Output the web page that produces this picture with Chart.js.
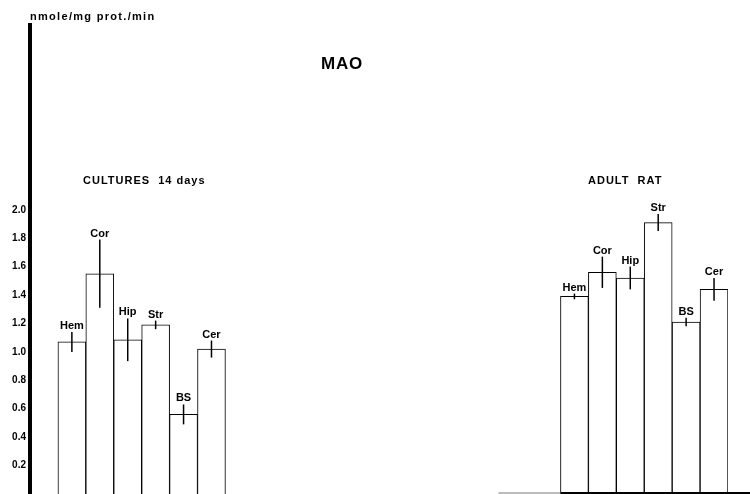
<!DOCTYPE html>
<html>
<head>
<meta charset="utf-8">
<script src="https://cdn.jsdelivr.net/npm/chart.js@4/dist/chart.umd.min.js"></script>
<style>
  body { margin: 0; background: #fff; }
  #wrap { position: relative; width: 750px; height: 494px; }
  .txt { position: absolute; font-family: "Liberation Sans", Arial, sans-serif; font-weight: bold; color: #000; white-space: pre; line-height: 1; }
</style>
</head>
<body>
<div id="wrap">
  <canvas id="maoChart"></canvas>
  <div class="txt" style="left:30px; top:11px; font-size:11px; letter-spacing:1.3px;">nmole/mg prot./min</div>
  <div class="txt" style="left:321px; top:55px; font-size:17px; letter-spacing:0.8px;">MAO</div>
  <div class="txt" style="left:83px; top:175px; font-size:11px; letter-spacing:1px;">CULTURES  14 days</div>
  <div class="txt" style="left:588px; top:175px; font-size:11px; letter-spacing:1px;">ADULT  RAT</div>
</div>
<script>
const regions = ["Hem", "Cor", "Hip", "Str", "BS", "Cer"];
const cultureValues = [1.07, 1.55, 1.085, 1.19, 0.56, 1.02];
const cultureErrors = [0.07, 0.24, 0.15, 0.03, 0.07, 0.06];
const adultValues = [1.39, 1.56, 1.52, 1.91, 1.21, 1.44];
const adultErrors = [0.02, 0.11, 0.08, 0.06, 0.03, 0.08];
const gapSlots = 12;

// one category axis: empty slot, cultures, gap, adult rat
const blank = (n) => Array(n).fill(null);
const labels = [""].concat(regions, Array(gapSlots).fill(""), regions);
const values = [null].concat(cultureValues, blank(gapSlots), adultValues);
const errors = [null].concat(cultureErrors, blank(gapSlots), adultErrors);

const errorBars = {
  id: "errorBars",
  afterDatasetsDraw(chart) {
    const ctx = chart.ctx;
    const y = chart.scales.y;
    const meta = chart.getDatasetMeta(0);
    ctx.save();
    ctx.strokeStyle = "#000";
    ctx.lineWidth = 1.5;
    ctx.fillStyle = "#000";
    ctx.font = "bold 11px 'Liberation Sans', Arial, sans-serif";
    ctx.textAlign = "center";
    ctx.textBaseline = "alphabetic";
    meta.data.forEach((bar, i) => {
      if (values[i] == null) return;
      const top = y.getPixelForValue(values[i] + errors[i]);
      const bot = y.getPixelForValue(values[i] - errors[i]);
      ctx.beginPath();
      ctx.moveTo(bar.x, top);
      ctx.lineTo(bar.x, bot);
      ctx.stroke();
      ctx.fillText(labels[i], bar.x, Math.min(top, bar.y) - 3);
    });

    // baseline under the adult group
    const x = chart.scales.x;
    const y0 = y.getPixelForValue(0) - 1;
    const start = x.getPixelForValue(1 + regions.length + gapSlots) - x.width / labels.length / 2;
    ctx.lineWidth = 2;
    ctx.strokeStyle = "#bbb";
    ctx.beginPath();
    ctx.moveTo(start - 62, y0);
    ctx.lineTo(start, y0);
    ctx.stroke();
    ctx.strokeStyle = "#000";
    ctx.beginPath();
    ctx.moveTo(start, y0);
    ctx.lineTo(chart.width, y0);
    ctx.stroke();
    ctx.restore();
  }
};

new Chart(document.getElementById("maoChart"), {
  type: "bar",
  data: {
    labels: labels,
    datasets: [{
      data: values,
      backgroundColor: "#fff",
      borderColor: "#000",
      borderWidth: 1,
      barPercentage: 1,
      categoryPercentage: 1,
    }]
  },
  options: {
    responsive: true,
    maintainAspectRatio: false,
    animation: false,
    layout: { padding: { top: 25, right: 22, bottom: 0, left: 0 } },
    plugins: { legend: { display: false }, tooltip: { enabled: false } },
    scales: {
      x: { display: false },
      y: {
        min: 0,
        max: 3.3,
        afterFit: (s) => { s.width = 30; s.paddingTop = 0; s.paddingBottom = 0; },
        grid: { display: false, drawTicks: false, tickLength: 0 },
        border: { display: true, color: "#000", width: 4 },
        ticks: {
          stepSize: 0.2,
          padding: 4,
          color: "#000",
          font: { family: "'Liberation Sans', Arial, sans-serif", weight: "bold", size: 10 },
          callback: (v) => {
            const r = Math.round(v * 10) / 10;
            return r > 0 && r <= 2 ? r.toFixed(1) : "";
          }
        }
      }
    }
  },
  plugins: [errorBars]
});
</script>
</body>
</html>
